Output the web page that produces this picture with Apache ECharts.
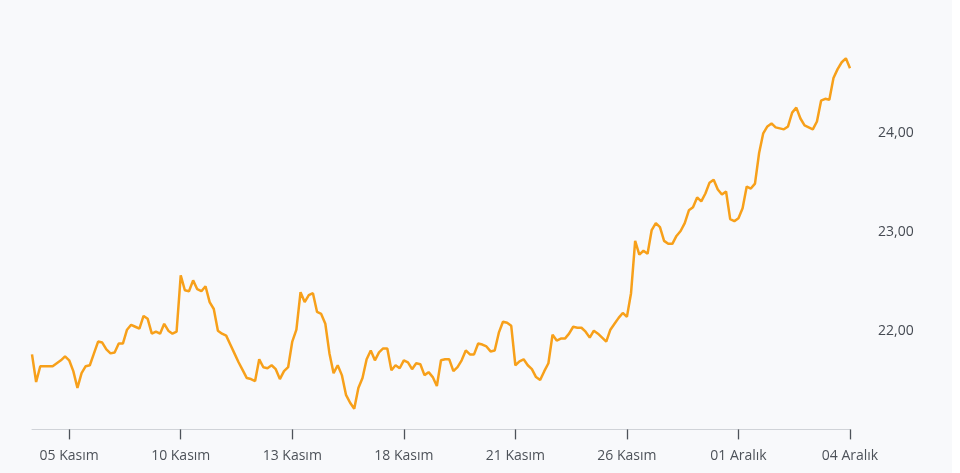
<!DOCTYPE html>
<html>
<head>
<meta charset="utf-8">
<script src="https://cdn.jsdelivr.net/npm/echarts@6/dist/echarts.min.js"></script>
<style>
html,body{margin:0;padding:0;background:#ffffff;}
#chart{width:952px;height:473px;background:#f8f9fb;}
</style>
</head>
<body>
<div id="chart"></div>
<script>
// tick labels shown on the x axis and the point index each one sits on
const tickLabels = ['05 Kasım','10 Kasım','13 Kasım','18 Kasım','21 Kasım','26 Kasım','01 Aralık','04 Aralık'];
const tickIndex = [9, 36, 63, 90, 117, 144, 171, 198];

// price values (one per sample)
const values = [
21.76,21.48,21.64,21.64,21.64,21.64,21.67,21.70,21.74,21.70,
21.59,21.42,21.57,21.64,21.65,21.77,21.89,21.88,21.81,21.77,
21.78,21.87,21.87,22.01,22.06,22.04,22.02,22.15,22.12,21.97,
21.99,21.97,22.07,22.00,21.97,21.99,22.56,22.41,22.40,22.51,
22.42,22.40,22.45,22.29,22.22,22.00,21.97,21.95,21.86,21.77,
21.68,21.60,21.52,21.51,21.49,21.71,21.63,21.62,21.65,21.61,
21.51,21.59,21.63,21.89,22.01,22.39,22.29,22.36,22.38,22.19,
22.17,22.07,21.77,21.57,21.65,21.55,21.35,21.27,21.21,21.42,
21.52,21.71,21.80,21.70,21.78,21.82,21.82,21.60,21.65,21.62,
21.70,21.68,21.61,21.67,21.66,21.55,21.58,21.53,21.44,21.70,
21.71,21.71,21.59,21.63,21.70,21.80,21.76,21.76,21.87,21.86,
21.84,21.79,21.80,21.98,22.09,22.08,22.05,21.65,21.69,21.71,
21.65,21.61,21.53,21.50,21.59,21.67,21.96,21.90,21.92,21.92,
21.97,22.04,22.03,22.03,21.99,21.93,22.00,21.97,21.93,21.89,
22.01,22.07,22.13,22.18,22.14,22.38,22.91,22.77,22.81,22.78,
23.02,23.09,23.05,22.91,22.88,22.88,22.96,23.01,23.09,23.22,
23.25,23.35,23.31,23.39,23.50,23.53,23.43,23.38,23.41,23.13,
23.11,23.14,23.24,23.46,23.44,23.49,23.80,24.00,24.07,24.10,
24.06,24.05,24.04,24.07,24.21,24.26,24.15,24.08,24.06,24.04,
24.12,24.33,24.35,24.34,24.56,24.65,24.72,24.76,24.66
];

// y axis range and step
const yMin = 21, yMax = 25, yStep = 1;

const categories = values.map((_, i) => String(i));

const chart = echarts.init(document.getElementById('chart'), null, {renderer: 'canvas'});
chart.setOption({
  animation: false,
  backgroundColor: '#f8f9fb',
  grid: {left: 32, right: 102, top: 34.6, bottom: 43.6, containLabel: false},
  xAxis: {
    type: 'category',
    data: categories,
    boundaryGap: false,
    axisLine: {show: true, lineStyle: {color: '#d0d3d8', width: 1}},
    axisTick: {
      show: true,
      length: 10,
      interval: (i) => tickIndex.indexOf(i) >= 0,
      lineStyle: {color: '#4d5259', width: 1.3}
    },
    axisLabel: {
      show: true,
      margin: 20,
      interval: (i) => tickIndex.indexOf(i) >= 0,
      formatter: (v, i) => { const k = tickIndex.indexOf(Number(v)); return k >= 0 ? tickLabels[k] : ''; },
      color: '#4d5259',
      fontSize: 14,
      fontFamily: 'Open Sans'
    },
    splitLine: {show: false}
  },
  yAxis: {
    type: 'value',
    position: 'right',
    min: yMin,
    max: yMax,
    interval: yStep,
    axisLine: {show: false},
    axisTick: {show: false},
    splitLine: {show: false},
    axisLabel: {
      margin: 28,
      showMinLabel: false,
      showMaxLabel: false,
      color: '#454a52',
      fontSize: 14,
      fontFamily: 'Open Sans',
      formatter: (v) => v.toFixed(2).replace('.', ',')
    }
  },
  series: [{
    type: 'line',
    data: values,
    showSymbol: false,
    symbol: 'none',
    lineStyle: {color: '#f7a01a', width: 2.5},
    itemStyle: {color: '#f7a01a'}
  }]
});
</script>
</body>
</html>
